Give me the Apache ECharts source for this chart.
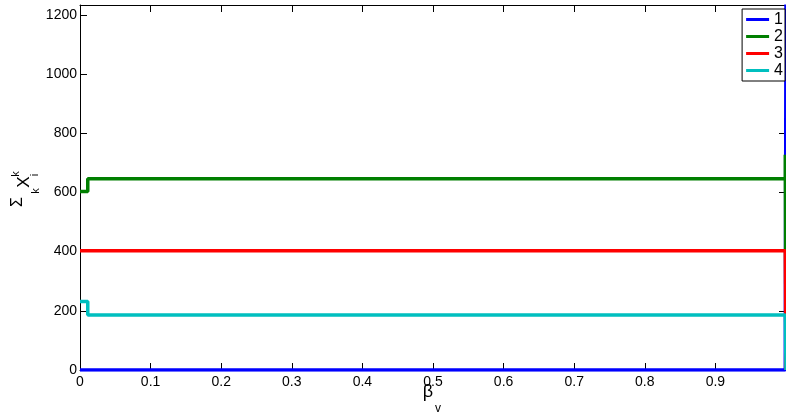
<!DOCTYPE html>
<html>
<head>
<meta charset="utf-8">
<script src="https://cdn.jsdelivr.net/npm/echarts@6/dist/echarts.min.js"></script>
<style>
  html, body { margin: 0; padding: 0; background: #fff; }
  #chart { width: 786px; height: 416px; }
</style>
</head>
<body>
<div id="chart"></div>
<script>
// Sum over k of X_i^k as a function of beta_v, one curve per i
const seriesNames = ['1', '2', '3', '4'];
const seriesColors = ['#0000ff', '#007f00', '#ff0000', '#00bfbf'];

// breakpoints (beta_v) and the level held from each breakpoint on
const beta1 = [0, 0.999, 1];
const sum1 = [0, 0, 1235];

const beta2 = [0, 0.011, 0.999, 1];
const sum2 = [603, 646, 727, 0];

const beta3 = [0, 0.999, 1];
const sum3 = [403, 403, 0];

const beta4 = [0, 0.011, 0.999, 1];
const sum4 = [231, 186, 186, 0];

const xTicks = { min: 0, max: 1, interval: 0.1 };
const yTicks = { min: 0, max: 1233, interval: 200 };

const betas = [beta1, beta2, beta3, beta4];
const sums = [sum1, sum2, sum3, sum4];

const font = 'Liberation Sans, Arial, Helvetica, sans-serif';

const chart = echarts.init(document.getElementById('chart'), null, { renderer: 'canvas' });

const baseX = {
  type: 'value', min: xTicks.min, max: xTicks.max, interval: xTicks.interval,
  axisLine: { show: true, onZero: false, lineStyle: { color: '#000', width: 1 } },
  axisTick: { show: true, inside: true, length: 7, lineStyle: { color: '#000' } },
  splitLine: { show: false }
};
const baseY = {
  type: 'value', min: yTicks.min, max: yTicks.max, interval: yTicks.interval,
  axisLine: { show: true, onZero: false, lineStyle: { color: '#000', width: 1 } },
  axisTick: { show: true, inside: true, length: 7, lineStyle: { color: '#000' } },
  splitLine: { show: false }
};

// glyph of an axis title, turned to read bottom to top
function rotText(text, x, y, size) {
  return {
    type: 'text', x: x, y: y, rotation: Math.PI / 2,
    style: { text: text, font: size + 'px ' + font, fill: '#000', align: 'center', verticalAlign: 'middle' },
    z: 10
  };
}
function flatText(text, x, y, size) {
  return {
    type: 'text', x: x, y: y,
    style: { text: text, font: size + 'px ' + font, fill: '#000', align: 'center', verticalAlign: 'middle' },
    z: 10
  };
}

chart.setOption({
  animation: false,
  backgroundColor: '#fff',
  grid: { left: 80, right: 0, top: 5, bottom: 46, containLabel: false },
  xAxis: [
    Object.assign({}, baseX, {
      position: 'bottom',
      axisLabel: { show: true, color: '#000', fontSize: 14, fontFamily: font, margin: 5, showMaxLabel: false,
        formatter: v => String(Math.round(v * 10) / 10) }
    }),
    Object.assign({}, baseX, { position: 'top', axisLabel: { show: false } })
  ],
  yAxis: [
    Object.assign({}, baseY, {
      position: 'left',
      axisLabel: { show: true, color: '#000', fontSize: 14, fontFamily: font, margin: 3, showMaxLabel: false,
        formatter: v => String(Math.round(v)) }
    }),
    Object.assign({}, baseY, { position: 'right', axisLabel: { show: false } })
  ],
  legend: {
    orient: 'vertical', right: 1, top: 9,
    icon: 'rect', itemWidth: 23, itemHeight: 3, itemGap: 0,
    padding: [2, 2, 2, 4],
    borderColor: '#000', borderWidth: 1, backgroundColor: '#fff',
    textStyle: { color: '#000', fontSize: 16, fontFamily: font, lineHeight: 17 },
    data: seriesNames
  },
  series: seriesNames.map((name, i) => ({
    name: name,
    type: 'line',
    step: 'end',
    xAxisIndex: 0, yAxisIndex: 0,
    symbol: 'none',
    color: seriesColors[i],
    lineStyle: { width: 3.5, color: seriesColors[i] },
    data: betas[i].map((b, j) => [b, sums[i][j]])
  })),
  graphic: [
    // y-axis title: Σ_k X_i^k
    rotText('Σ', 18, 202, 16),
    rotText('k', 36, 191, 11),
    rotText('X', 24, 182, 17),
    rotText('i', 35, 175, 11),
    rotText('k', 16, 174, 11),
    // x-axis title: β_v
    flatText('β', 428, 392, 18),
    flatText('v', 438, 409, 12)
  ]
});
</script>
</body>
</html>
